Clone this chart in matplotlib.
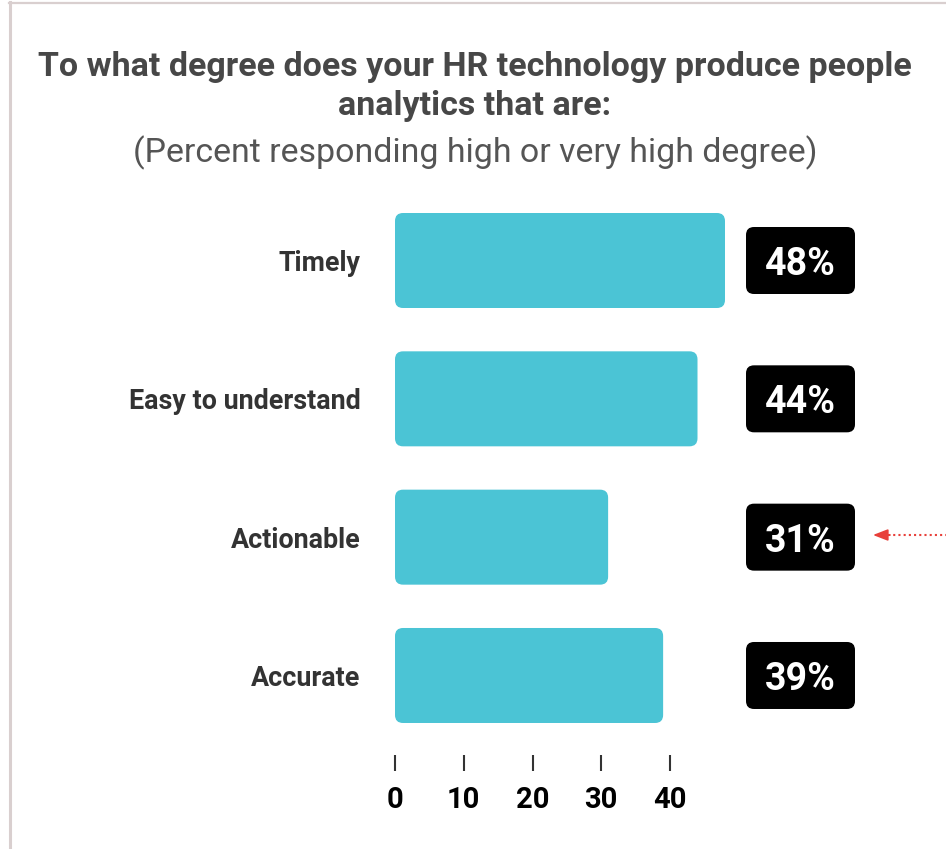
import matplotlib
matplotlib.use("Agg")
import matplotlib.pyplot as plt
from matplotlib.patches import FancyBboxPatch
from matplotlib.lines import Line2D

plt.rcParams['font.family'] = ['Roboto', 'DejaVu Sans']

categories = ["Timely", "Easy to understand", "Actionable", "Accurate"]
values = [48, 44, 31, 39]
xticks = [0, 10, 20, 30, 40]

title_lines = ["To what degree does your HR technology produce people",
               "analytics that are:"]
subtitle = "(Percent responding high or very high degree)"

bar_color = "#4bc4d5"
W, H = 946, 849

fig = plt.figure(figsize=(W / 100, H / 100), dpi=100)

# axes placed in pixel terms: x=0 at 395px, 10 units = 68.75px
px_per_unit = 6.875
ax_left, ax_right = 395, 880
ax_top, ax_bot = 200, 755
ax = fig.add_axes([ax_left / W, 1 - ax_bot / H, (ax_right - ax_left) / W, (ax_bot - ax_top) / H])
ax.set_xlim(0, (ax_right - ax_left) / px_per_unit)
row_px = 138.33
first_center = 260.5
ax.set_ylim((ax_bot - first_center) / row_px, (ax_top - first_center) / row_px)

for s in ax.spines.values():
    s.set_visible(False)

# aspect for rounded corners (y units per x unit in pixels)
y_per_px = 1 / row_px
x_per_px = 1 / px_per_unit
aspect = y_per_px / x_per_px

bar_h = 95 / row_px
radius = 8 * x_per_px
for i, v in enumerate(values):
    ax.add_patch(FancyBboxPatch((0, i - bar_h / 2), v, bar_h,
                                boxstyle=f"round,pad=0,rounding_size={radius}",
                                mutation_aspect=aspect, fc=bar_color, ec="none"))
    # value badge
    bx0 = (746 - ax_left) * x_per_px
    bw = 109 * x_per_px
    bh = 67 * y_per_px
    ax.add_patch(FancyBboxPatch((bx0, i - bh / 2), bw, bh,
                                boxstyle=f"round,pad=0,rounding_size={radius}",
                                mutation_aspect=aspect, fc="black", ec="none",
                                clip_on=False))
    ax.text(bx0 + bw / 2, i, f"{v}%", color="white", fontsize=27,
            fontweight="bold", ha="center", va="center_baseline")

ax.set_yticks(range(len(categories)))
ax.set_yticklabels(categories, fontsize=19.4, fontweight="bold", color="#333333")
ax.tick_params(axis="y", length=0, pad=25)

ax.set_xticks(xticks)
ax.set_xticklabels([str(t) for t in xticks], fontsize=21, fontweight="bold", color="black")
ax.tick_params(axis="x", length=11.5, width=1.5, color="#333333", pad=11)

# title block
fig.text(475 / W, 1 - 76 / H, title_lines[0], ha="center", va="baseline",
         fontsize=24.5, fontweight="bold", color="#474747")
fig.text(475 / W, 1 - 115 / H, title_lines[1], ha="center", va="baseline",
         fontsize=24.5, fontweight="bold", color="#474747")
fig.text(475 / W, 1 - 162 / H, subtitle, ha="center", va="baseline",
         fontsize=24.4, color="#555555")

# pointer arrow at the Actionable badge
ay = 1 - 535 / H
fig.add_artist(Line2D([888 / W, 1.0], [ay, ay], transform=fig.transFigure,
                      color="#e8403a", lw=1.5, ls=(0, (1, 1.5))))
ax.annotate("", xy=(873 / W, ay), xytext=(890 / W, ay),
            xycoords="figure fraction", textcoords="figure fraction",
            arrowprops=dict(arrowstyle="-|>,head_length=0.9,head_width=0.35",
                            color="#e8403a", lw=1.2, shrinkA=0, shrinkB=0))

# frame edges
border = "#d9cfcf"
fig.add_artist(Line2D([10 / W, 10 / W], [0, 1 - 2 / H], transform=fig.transFigure,
                      color=border, lw=2.2))
fig.add_artist(Line2D([9 / W, 1.0], [1 - 3 / H, 1 - 3 / H], transform=fig.transFigure,
                      color=border, lw=1.6))

fig.savefig("out.png", dpi=100)
